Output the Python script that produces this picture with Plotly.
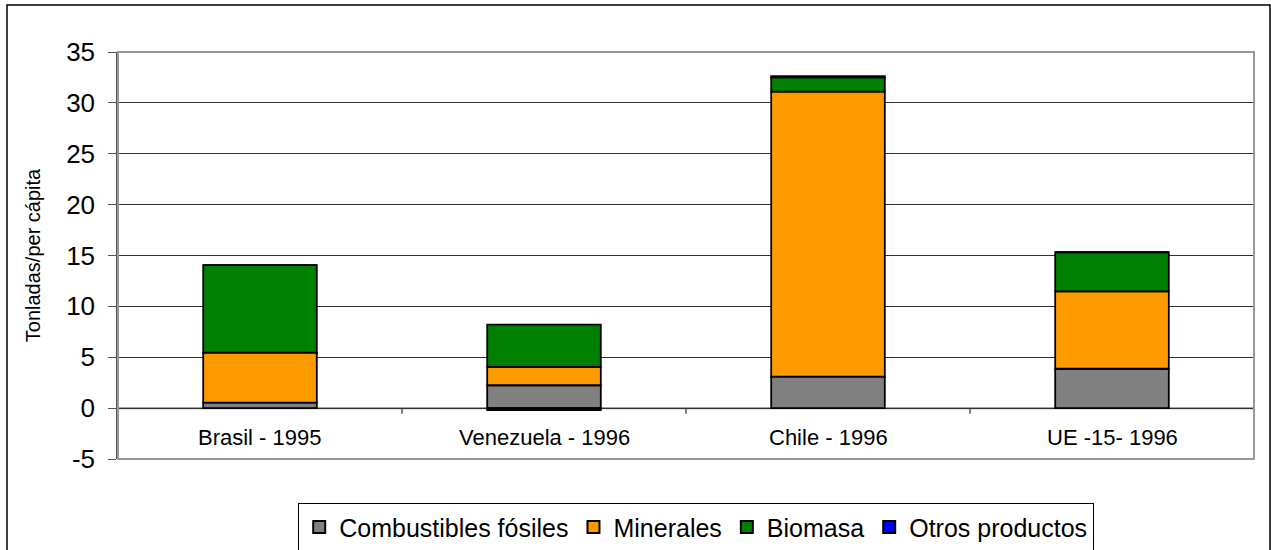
import plotly.graph_objects as go

categories = ["Brasil - 1995", "Venezuela - 1996", "Chile - 1996", "UE -15- 1996"]
combustibles = [0.55, 2.25, 3.1, 3.87]
minerales = [4.9, 1.8, 28.0, 7.6]
biomasa = [8.6, 4.15, 1.4, 3.85]
otros = [0.0, -0.2, 0.12, 0.0]
series_names = ["Combustibles fósiles", "Minerales", "Biomasa", "Otros productos"]
colors = ["#808080", "#FF9900", "#008000", "#0000FF"]
y_ticks = [-5, 0, 5, 10, 15, 20, 25, 30, 35]

W, H = 1271, 550
L, R, T, B = 118, 17, 52, 91
FONT = "Liberation Sans, Arial, sans-serif"

fig = go.Figure()
for name, vals, col in zip(series_names, [combustibles, minerales, biomasa, otros], colors):
    fig.add_trace(go.Bar(
        x=list(range(len(categories))), y=vals, name=name,
        marker=dict(color=col, line=dict(color="black", width=1.8)),
    ))

shapes = []
# outer chart frame
shapes.append(dict(type="rect", xref="paper", yref="paper",
                   x0=(7 - L) / (W - L - R), x1=(1270 - L) / (W - L - R),
                   y0=-0.4, y1=(H - B - 5) / (H - T - B),
                   line=dict(color="black", width=1.5), layer="below"))
# plot area border
shapes.append(dict(type="rect", xref="paper", yref="paper", x0=0, x1=1, y0=0, y1=1,
                   line=dict(color="#999999", width=2), layer="above"))
# category axis line at zero
shapes.append(dict(type="line", xref="paper", yref="y", x0=0, x1=1, y0=0, y1=0,
                   line=dict(color="#888888", width=2), layer="below"))
# category boundary tick marks
for i in range(len(categories) - 1):
    shapes.append(dict(type="line", xref="x", yref="y", x0=i + 0.5, x1=i + 0.5,
                       y0=0, y1=-0.55, line=dict(color="#333333", width=1.2)))

annotations = [dict(x=i, y=-2.9, xref="x", yref="y", text=c, showarrow=False,
                    font=dict(family=FONT, size=22, color="black"))
               for i, c in enumerate(categories)]

fig.update_layout(
    width=W, height=H,
    margin=dict(l=L, r=R, t=T, b=B, autoexpand=False),
    paper_bgcolor="white", plot_bgcolor="white",
    barmode="relative", bargap=0.6,
    font=dict(family=FONT, color="black"),
    showlegend=True,
    legend=dict(orientation="h", xref="container", yref="container",
                x=298 / W, xanchor="left", y=1 - 503 / H, yanchor="top",
                bordercolor="black", borderwidth=1.2, bgcolor="white",
                font=dict(family=FONT, size=25, color="black"),
                traceorder="normal", itemsizing="constant"),
    xaxis=dict(range=[-0.5, len(categories) - 0.5], showticklabels=False,
               showgrid=False, zeroline=False, showline=False, fixedrange=True),
    yaxis=dict(range=[-5, 35], tickvals=y_ticks, ticktext=[str(v) for v in y_ticks],
               ticks="outside", ticklen=8, ticklabelstandoff=8,
               tickcolor="#555555", tickfont=dict(family=FONT, size=26, color="black"),
               showgrid=True, gridcolor="#333333", gridwidth=1, zeroline=False,
               showline=True, linecolor="#555555", linewidth=1.5,
               title=dict(text="Tonladas/per cápita", font=dict(family=FONT, size=20, color="black"),
                          standoff=20)),
    shapes=shapes, annotations=annotations,
)

fig.write_html("out.html", config={"displayModeBar": False},
               post_script="document.body.style.margin='0';document.body.style.overflow='hidden';")
